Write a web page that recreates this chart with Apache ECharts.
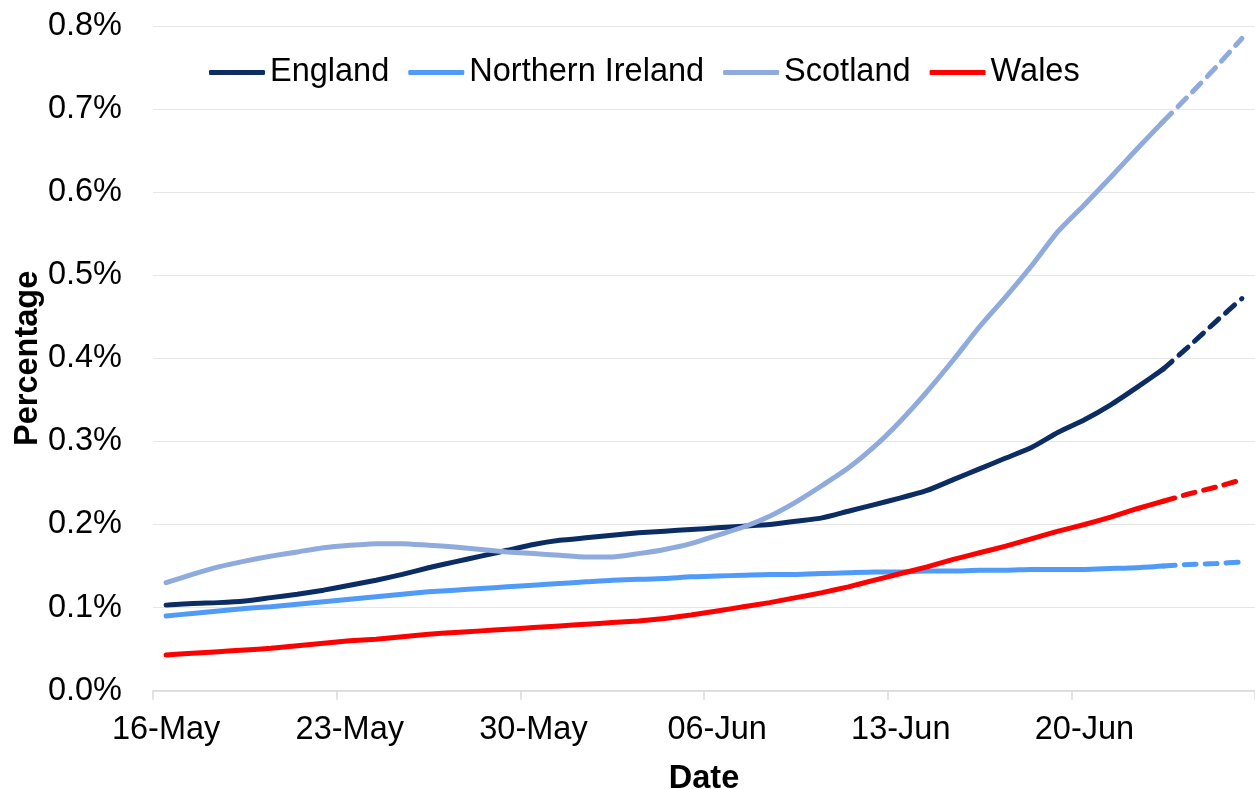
<!DOCTYPE html>
<html>
<head>
<meta charset="utf-8">
<script src="https://cdn.jsdelivr.net/npm/echarts@6/dist/echarts.min.js"></script>
<style>
html,body{margin:0;padding:0;background:#fff;}
#chart{width:1255px;height:789px;}
</style>
</head>
<body>
<div id="chart"></div>
<script>
var dates = ['16-May','17-May','18-May','19-May','20-May','21-May','22-May','23-May','24-May','25-May','26-May','27-May','28-May','29-May','30-May','31-May',
  '01-Jun','02-Jun','03-Jun','04-Jun','05-Jun','06-Jun','07-Jun','08-Jun','09-Jun','10-Jun','11-Jun','12-Jun','13-Jun','14-Jun','15-Jun','16-Jun',
  '17-Jun','18-Jun','19-Jun','20-Jun','21-Jun','22-Jun','23-Jun','24-Jun','25-Jun','26-Jun'];

var england = [0.103,0.105,0.106,0.108,0.112,0.116,0.121,0.127,0.133,0.140,0.148,0.155,0.162,0.169,0.176,0.181,
  0.184,0.187,0.190,0.192,0.194,0.196,0.198,0.200,0.204,0.208,0.216,0.224,0.232,0.241,0.254,0.267,
  0.280,0.293,0.311,0.326,0.344,0.365,0.387,0.415,0.444,0.472];
var northernIreland = [0.090,0.093,0.096,0.099,0.101,0.104,0.107,0.110,0.113,0.116,0.119,0.121,0.123,0.125,0.127,0.129,
  0.131,0.133,0.134,0.135,0.137,0.138,0.139,0.140,0.140,0.141,0.142,0.143,0.143,0.144,0.144,0.145,
  0.145,0.146,0.146,0.146,0.147,0.148,0.150,0.152,0.153,0.155];
var scotland = [0.130,0.140,0.149,0.156,0.162,0.167,0.172,0.175,0.177,0.177,0.175,0.173,0.170,0.167,0.165,0.163,
  0.161,0.161,0.165,0.170,0.177,0.187,0.197,0.210,0.227,0.247,0.268,0.294,0.325,0.360,0.398,0.438,
  0.474,0.512,0.553,0.585,0.618,0.652,0.685,0.717,0.750,0.785];
var wales = [0.043,0.045,0.047,0.049,0.051,0.054,0.057,0.060,0.062,0.065,0.068,0.070,0.072,0.074,0.076,0.078,
  0.080,0.082,0.084,0.087,0.091,0.096,0.101,0.106,0.112,0.118,0.125,0.133,0.141,0.149,0.158,0.166,
  0.174,0.183,0.192,0.200,0.209,0.219,0.228,0.237,0.245,0.254];

var names = ['England','Northern Ireland','Scotland','Wales'];
var colors = ['#0b2d64','#4f9bf7','#8faadc','#ff0000'];
var lastSolid = 38;

var font = '"Liberation Sans", Arial, sans-serif';

function solidPart(arr){ return arr.map(function(v,i){ return i <= lastSolid ? v : null; }); }
function dashedPart(arr){ return arr.map(function(v,i){ return i >= lastSolid ? v : null; }); }

var allData = [england, northernIreland, scotland, wales];
var series = [];
allData.forEach(function(arr, k){
  series.push({
    name: names[k], type: 'line', data: solidPart(arr), showSymbol: false, symbol: 'none',
    smooth: 0.2, lineStyle: {color: colors[k], width: 5, cap: 'round', join: 'round'},
    itemStyle: {color: colors[k]}, z: 2 + k
  });
});
allData.forEach(function(arr, k){
  series.push({
    name: names[k] + ' projection', type: 'line', data: dashedPart(arr), showSymbol: false, symbol: 'none',
    smooth: 0.2, lineStyle: {color: colors[k], width: 5, type: [12, 9], cap: 'round'},
    itemStyle: {color: colors[k]}, z: 2 + k
  });
});

var chart = echarts.init(document.getElementById('chart'), null, {renderer: 'canvas'});
chart.setOption({
  animation: false,
  backgroundColor: '#ffffff',
  textStyle: {fontFamily: font},
  legend: {
    data: names, left: 204, top: 51, icon: 'roundRect', itemWidth: 56, itemHeight: 5, itemGap: 19,
    textStyle: {fontSize: 32.5, color: '#000', fontFamily: font}
  },
  grid: {left: 153, right: 0, top: 26, bottom: 98.3, containLabel: false, outerBoundsMode: 'none'},
  xAxis: {
    type: 'category', data: dates, boundaryGap: true,
    name: 'Date', nameLocation: 'middle', nameGap: 72, nameMoveOverlap: false,
    nameTextStyle: {fontSize: 32.5, fontWeight: 'bold', color: '#000', fontFamily: font},
    axisLine: {lineStyle: {color: '#d9d9d9', width: 1.5}},
    axisTick: {show: true, interval: 6, length: 9, lineStyle: {color: '#d9d9d9', width: 1.5}},
    axisLabel: {interval: 6, fontSize: 32.5, color: '#000', margin: 23, fontFamily: font},
    splitLine: {show: false}
  },
  yAxis: {
    type: 'value', min: 0, max: 0.8, interval: 0.1,
    name: 'Percentage', nameLocation: 'middle', nameGap: 108, nameRotate: 90, nameMoveOverlap: false,
    nameTextStyle: {fontSize: 32.5, fontWeight: 'bold', color: '#000', fontFamily: font},
    axisLine: {show: false}, axisTick: {show: false},
    axisLabel: {fontSize: 32.5, color: '#000', margin: 31, fontFamily: font,
      formatter: function(v){ return v.toFixed(1) + '%'; }},
    splitLine: {lineStyle: {color: '#e6e6e6', width: 1.2}}
  },
  series: series
});
</script>
</body>
</html>
